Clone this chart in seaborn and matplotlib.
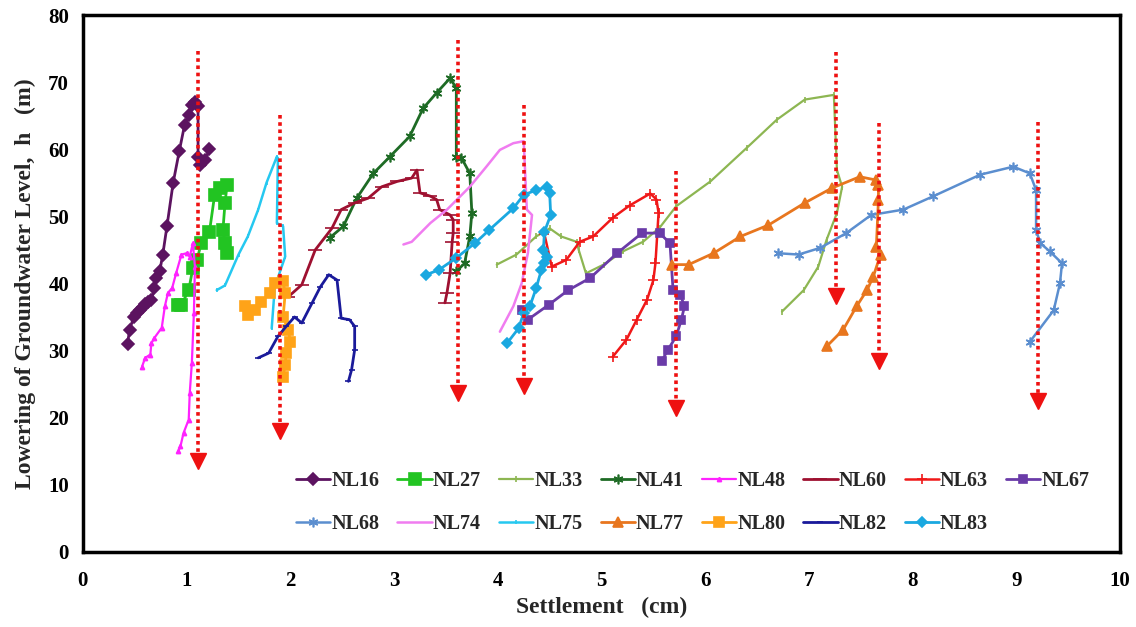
import pandas as pd
import matplotlib.pyplot as plt
import seaborn as sns
from matplotlib.ticker import MultipleLocator

# Settlement (cm) vs lowering of groundwater level (m) for each well
NL16_x = [0.43, 0.45, 0.49, 0.52, 0.55, 0.58, 0.60, 0.63, 0.66, 0.69, 0.70, 0.74, 0.77, 0.81, 0.87, 0.93, 0.98, 1.02, 1.05, 1.08, 1.11, 1.11, 1.13, 1.18, 1.22]
NL16_y = [31.0, 33.1, 35.0, 35.6, 36.0, 36.5, 37.0, 37.2, 37.6, 39.3, 40.8, 41.8, 44.3, 48.5, 55.0, 59.8, 63.6, 65.1, 66.6, 67.1, 66.4, 58.9, 57.7, 58.4, 60.1]

NL27_x = [0.92, 0.95, 1.02, 1.06, 1.10, 1.14, 1.22, 1.27, 1.32, 1.39, 1.37, 1.35, 1.37, 1.39]
NL27_y = [36.8, 36.8, 39.0, 42.3, 43.5, 46.0, 47.7, 53.2, 54.2, 54.7, 52.0, 48.0, 46.0, 44.5]

NL33_x = [3.99, 4.18, 4.37, 4.50, 4.61, 4.76, 4.78, 4.85, 5.02, 5.21, 5.40, 5.56, 5.72, 6.05, 6.40, 6.69, 6.96, 7.24, 7.27, 7.32, 7.27, 7.17, 7.09, 6.95, 6.74]
NL33_y = [42.8, 44.3, 47.0, 48.2, 47.0, 46.2, 45.0, 41.5, 42.8, 44.8, 46.2, 48.3, 51.5, 55.2, 60.2, 64.4, 67.4, 68.1, 56.9, 54.4, 50.5, 46.5, 42.5, 39.0, 35.8]

NL41_x = [2.38, 2.51, 2.64, 2.80, 2.96, 3.15, 3.28, 3.41, 3.54, 3.60, 3.60, 3.65, 3.73, 3.75, 3.73, 3.68, 3.60]
NL41_y = [46.8, 48.5, 52.7, 56.4, 58.9, 61.9, 66.1, 68.4, 70.6, 69.1, 58.9, 58.7, 56.4, 50.5, 47.0, 43.0, 41.8]

NL48_x = [0.57, 0.60, 0.65, 0.66, 0.69, 0.76, 0.79, 0.82, 0.86, 0.90, 0.95, 1.00, 1.03, 1.06, 1.08, 1.07, 1.05, 1.03, 1.02, 0.97, 0.94, 0.92]
NL48_y = [27.6, 28.9, 29.4, 31.1, 31.9, 33.4, 36.6, 38.6, 39.3, 41.6, 44.3, 44.5, 44.0, 46.0, 42.5, 35.6, 28.1, 23.7, 19.7, 17.7, 15.7, 15.0]

NL60_x = [1.98, 2.11, 2.24, 2.40, 2.49, 2.62, 2.75, 2.88, 3.03, 3.17, 3.22, 3.25, 3.35, 3.41, 3.44, 3.54, 3.57, 3.57, 3.56, 3.54, 3.51, 3.49]
NL60_y = [38.0, 39.8, 45.0, 48.2, 51.0, 52.0, 52.7, 54.4, 55.2, 55.7, 56.9, 53.5, 53.0, 52.5, 51.0, 50.2, 49.5, 47.5, 46.2, 41.5, 38.6, 37.1]

NL63_x = [4.45, 4.52, 4.66, 4.79, 4.92, 5.11, 5.27, 5.47, 5.53, 5.55, 5.52, 5.50, 5.44, 5.34, 5.24, 5.11]
NL63_y = [47.3, 42.5, 43.5, 46.2, 47.0, 49.8, 51.6, 53.4, 52.5, 50.5, 43.0, 40.5, 37.6, 34.6, 31.6, 29.1]

NL67_x = [4.23, 4.29, 4.49, 4.68, 4.89, 5.15, 5.39, 5.56, 5.66, 5.69, 5.76, 5.80, 5.77, 5.72, 5.64, 5.58]
NL67_y = [36.0, 34.6, 36.8, 39.0, 40.8, 44.5, 47.5, 47.5, 46.0, 39.0, 38.3, 36.6, 34.6, 32.1, 30.1, 28.4]

NL68_x = [6.70, 6.90, 7.11, 7.36, 7.60, 7.91, 8.20, 8.65, 8.97, 9.13, 9.19, 9.19, 9.23, 9.32, 9.44, 9.42, 9.36, 9.13]
NL68_y = [44.5, 44.3, 45.3, 47.5, 50.2, 51.0, 53.0, 56.2, 57.4, 56.4, 53.9, 48.0, 46.0, 44.8, 43.0, 40.0, 36.0, 31.3]

NL74_x = [3.09, 3.17, 3.35, 3.51, 3.73, 3.89, 4.02, 4.15, 4.25, 4.28, 4.33, 4.29, 4.23, 4.15, 4.02]
NL74_y = [45.8, 46.2, 49.0, 51.0, 54.4, 57.4, 59.9, 60.9, 61.2, 51.0, 50.2, 44.5, 40.0, 36.6, 32.8]

NL75_x = [1.29, 1.37, 1.50, 1.59, 1.69, 1.77, 1.87, 1.88, 1.87, 1.93, 1.95, 1.85, 1.82]
NL75_y = [39.0, 39.7, 44.3, 47.0, 51.0, 55.0, 58.9, 58.5, 49.0, 48.5, 44.0, 39.5, 33.3]

NL77_x = [5.68, 5.84, 6.08, 6.34, 6.61, 6.96, 7.22, 7.49, 7.65, 7.67, 7.67, 7.65, 7.69, 7.62, 7.56, 7.46, 7.33, 7.17]
NL77_y = [42.8, 42.8, 44.5, 47.0, 48.7, 52.0, 54.2, 55.9, 55.4, 54.7, 52.5, 45.5, 44.3, 41.0, 39.0, 36.6, 33.1, 30.6]

NL80_x = [1.56, 1.59, 1.66, 1.72, 1.80, 1.85, 1.93, 1.95, 1.93, 1.98, 2.00, 1.96, 1.95, 1.93]
NL80_y = [36.6, 35.3, 36.0, 37.3, 38.5, 40.0, 40.3, 38.5, 35.0, 33.0, 31.3, 29.6, 27.9, 26.1]

NL82_x = [1.69, 1.79, 1.88, 1.96, 2.04, 2.11, 2.21, 2.29, 2.37, 2.45, 2.49, 2.57, 2.62, 2.62, 2.59, 2.56]
NL82_y = [28.9, 29.6, 32.1, 33.6, 35.0, 34.1, 37.1, 39.5, 41.3, 40.5, 34.8, 34.6, 33.6, 30.1, 27.1, 25.4]

NL83_x = [3.31, 3.43, 3.60, 3.78, 3.92, 4.15, 4.25, 4.37, 4.47, 4.50, 4.51, 4.45, 4.44, 4.47, 4.45, 4.42, 4.37, 4.31, 4.25, 4.20, 4.09]
NL83_y = [41.3, 42.0, 43.8, 46.0, 48.0, 51.2, 53.2, 53.9, 54.4, 53.5, 50.2, 47.7, 45.0, 44.0, 43.0, 42.0, 39.3, 36.6, 35.6, 33.3, 31.1]

# red dotted arrows: settlement position, top of line, centre of arrow head
arrow_x = [1.11, 1.90, 3.62, 4.25, 5.72, 7.26, 7.68, 9.21]
arrow_top = [74.6, 65.1, 76.3, 66.6, 56.8, 74.5, 63.9, 64.1]
arrow_head = [13.5, 18.0, 23.6, 24.7, 21.4, 38.1, 28.4, 22.5]

wells = {
    'NL16': (NL16_x, NL16_y), 'NL27': (NL27_x, NL27_y), 'NL33': (NL33_x, NL33_y),
    'NL41': (NL41_x, NL41_y), 'NL48': (NL48_x, NL48_y), 'NL60': (NL60_x, NL60_y),
    'NL63': (NL63_x, NL63_y), 'NL67': (NL67_x, NL67_y), 'NL68': (NL68_x, NL68_y),
    'NL74': (NL74_x, NL74_y), 'NL75': (NL75_x, NL75_y), 'NL77': (NL77_x, NL77_y),
    'NL80': (NL80_x, NL80_y), 'NL82': (NL82_x, NL82_y), 'NL83': (NL83_x, NL83_y),
}

# colour, marker, marker size, line width
styles = {
    'NL16': ('#5c1360', 'D', 6, 2.0),
    'NL27': ('#22c422', 's', 8, 2.0),
    'NL33': ('#8db652', '|', 4, 1.6),
    'NL41': ('#1e6b25', (6, 2, 0), 7, 2.0),
    'NL48': ('#ff22ff', '^', 3, 1.6),
    'NL60': ('#9e1030', '_', 10, 2.0),
    'NL63': ('#f01818', '+', 7, 1.8),
    'NL67': ('#6a3ba8', 's', 6, 2.0),
    'NL68': ('#5b8ecf', (6, 2, 0), 7, 1.8),
    'NL74': ('#f07cf0', '', 0, 1.8),
    'NL75': ('#25c8f0', '|', 3, 1.8),
    'NL77': ('#e8761e', '^', 7, 2.0),
    'NL80': ('#ffa318', 's', 7, 2.0),
    'NL82': ('#1a1a9a', '_', 4, 2.0),
    'NL83': ('#1aa8e0', 'D', 5, 2.0),
}

sns.set_theme(style='white')
plt.rcParams['font.family'] = ['Liberation Serif', 'DejaVu Serif']
plt.rcParams['font.weight'] = 'bold'

fig = plt.figure(figsize=(11.36, 6.27), dpi=100)
ax = fig.add_axes([0.073, 0.12, 0.913, 0.856])

for name, (xs, ys) in wells.items():
    color, marker, ms, lw = styles[name]
    df = pd.DataFrame({'Settlement': xs, 'Lowering': ys})
    sns.lineplot(data=df, x='Settlement', y='Lowering', sort=False, estimator=None,
                 color=color, marker=marker if marker else None, markersize=ms,
                 markeredgecolor=color, markerfacecolor=color, markeredgewidth=1.2,
                 linewidth=lw, label=name, ax=ax)

for xa, yt, yh in zip(arrow_x, arrow_top, arrow_head):
    ax.plot([xa, xa], [yt, yh], color='#ee1111', linestyle=(0, (1, 1)), linewidth=2.6, zorder=10)
    ax.plot([xa], [yh], marker='v', markersize=11, color='#ee1111', zorder=11)

ax.set_xlim(0, 10)
ax.set_ylim(0, 80)
ax.xaxis.set_major_locator(MultipleLocator(1))
ax.xaxis.set_minor_locator(MultipleLocator(0.2))
ax.yaxis.set_major_locator(MultipleLocator(10))
ax.yaxis.set_minor_locator(MultipleLocator(2))
ax.tick_params(which='both', direction='in', width=1.8, colors='black', labelsize=15)
ax.tick_params(axis='x', which='major', pad=14)
ax.tick_params(axis='y', which='major', pad=10)
ax.tick_params(which='major', length=6)
ax.tick_params(which='minor', length=4)
for lab in ax.get_xticklabels() + ax.get_yticklabels():
    lab.set_fontweight('bold')
for sp in ax.spines.values():
    sp.set_linewidth(2.5)
    sp.set_color('black')

ax.set_xlabel('Settlement   (cm)', fontsize=17, fontweight='bold', labelpad=4)
ax.set_ylabel('Lowering of Groundwater Level,  h   (m)', fontsize=17, fontweight='bold', labelpad=9)

# legend is filled row by row in the original, matplotlib fills by column
handles, labels = ax.get_legend_handles_labels()
order = [0, 8, 1, 9, 2, 10, 3, 11, 4, 12, 5, 13, 6, 14, 7]
ax.legend([handles[i] for i in order], [labels[i] for i in order], ncol=8,
          loc='center', bbox_to_anchor=(0.588, 0.092), frameon=False,
          prop={'weight': 'bold', 'size': 14.5}, handlelength=1.7, handletextpad=0.05,
          columnspacing=0.9, labelspacing=1.15)

plt.savefig('out.png', dpi=100)
plt.close()
